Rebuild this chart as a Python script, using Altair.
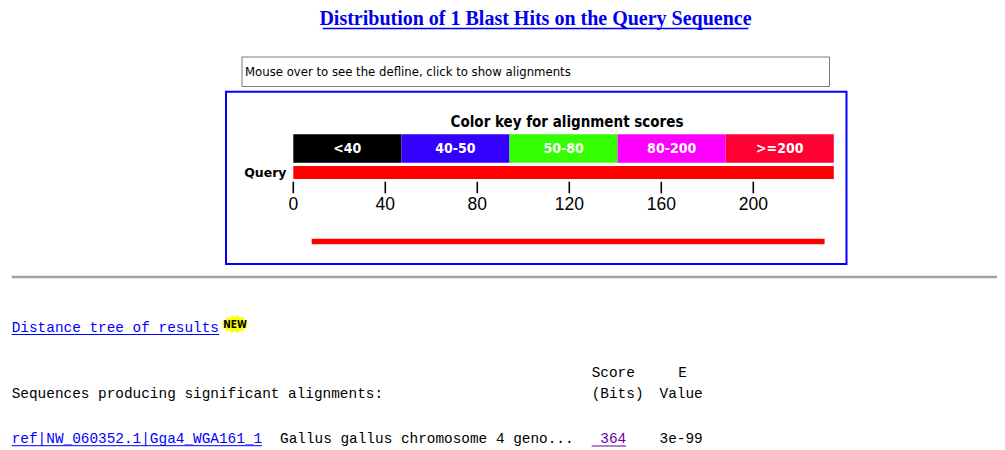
import altair as alt
import pandas as pd
import numpy as np

# ---------------- data ----------------
title_text = "Distribution of 1 Blast Hits on the Query Sequence"
hint_text = "Mouse over to see the defline, click to show alignments"
key_title = "Color key for alignment scores"
key_labels = ["<40", "40-50", "50-80", "80-200", ">=200"]
key_colors = ["#000000", "#3300ff", "#33ff00", "#ff00ff", "#ff0033"]
key_starts = [0, 47, 94, 141, 188]
key_ends = [47, 94, 141, 188, 235]
query_length = 235
tick_values = [0, 40, 80, 120, 160, 200]
hit_starts = [8]
hit_ends = [231]
hit_scores = [364]
hit_ids = ["ref|NW_060352.1|Gga4_WGA161_1"]
hit_descs = ["Gallus gallus chromosome 4 geno..."]
hit_evalues = ["3e-99"]
link_text = "Distance tree of results"
seq_header = "Sequences producing significant alignments:"

# ---------------- layout helpers ----------------
W, H = 989, 442
M = 8  # page margin
XS = alt.Scale(domain=[-285.3 / 2.3, (W - 285.3) / 2.3], nice=False, zero=False)
MONO = "Liberation Mono"
SANS = "Liberation Sans"
NARROW = "Liberation Sans Narrow, DejaVu Sans Condensed, Liberation Sans"


def one():
    return pd.DataFrame({"a": [0]})


def txt(s, x, y, **kw):
    kw.setdefault("baseline", "middle")
    return alt.Chart(pd.DataFrame({"t": [s]})).mark_text(**kw).encode(
        x=alt.value(x - M), y=alt.value(y - M), text="t:N")


def hrule(x1, x2, y, color, width):
    return alt.Chart(one()).mark_rule(color=color, strokeWidth=width).encode(
        x=alt.value(x1 - M), x2=alt.value(x2 - M), y=alt.value(y - M))


def box(x1, x2, y1, y2, **kw):
    return alt.Chart(one()).mark_rect(**kw).encode(
        x=alt.value(x1 - M), x2=alt.value(x2 - M),
        y=alt.value(y1 - M), y2=alt.value(y2 - M))


layers = []

# title
layers.append(txt(title_text, 535.5, 19, align="center", font="Liberation Serif",
                  fontWeight="bold", fontSize=20, color="#0000ee"))
layers.append(hrule(322.7, 748.3, 28.5, "#0000ee", 1.5))

# hint box
layers.append(box(242, 829.5, 57, 86.5, fill="#ffffff", stroke="#7a7a7a", strokeWidth=1))
layers.append(txt(hint_text, 245, 72, align="left", font=NARROW, fontSize=13, color="#000000"))

# blue frame
layers.append(box(226, 846.5, 91.7, 264, fill="#ffffff", fillOpacity=0,
                  stroke="#0000ff", strokeWidth=2))

# colour key
key_df = pd.DataFrame({"start": key_starts, "end": key_ends, "label": key_labels})
key_rect = alt.Chart(key_df).mark_rect().encode(
    x=alt.X("start:Q", scale=XS, axis=None), x2="end:Q",
    y=alt.value(134.3 - M), y2=alt.value(162.7 - M),
    color=alt.Color("label:N", scale=alt.Scale(domain=key_labels, range=key_colors), legend=None))
key_txt = alt.Chart(key_df).transform_calculate(mid="(datum.start + datum.end) / 2").mark_text(
    font=NARROW, fontWeight="bold", fontSize=14, color="#ffffff", baseline="middle").encode(
    x=alt.X("mid:Q", scale=XS, axis=None), y=alt.value(148.5 - M), text="label:N")
key_title_l = alt.Chart(pd.DataFrame({"t": [key_title], "c": [query_length / 2 + 1.5]})).mark_text(
    font=NARROW, fontWeight="bold", fontSize=15, color="#000000", baseline="middle").encode(
    x=alt.X("c:Q", scale=XS, axis=None), y=alt.value(121.5 - M), text="t:N")
layers += [key_rect, key_txt, key_title_l]

# query bar
q_df = pd.DataFrame({"start": [0], "end": [query_length]})
layers.append(alt.Chart(q_df).mark_rect(color="#ff0000").encode(
    x=alt.X("start:Q", scale=XS, axis=None), x2="end:Q",
    y=alt.value(166 - M), y2=alt.value(179 - M)))
layers.append(txt("Query", 286.5, 172.5, align="right", font="DejaVu Sans", fontWeight="bold",
                  fontSize=12.5, color="#000000"))

# ticks
t_df = pd.DataFrame({"pos": tick_values})
layers.append(alt.Chart(t_df).mark_rule(color="#000000", strokeWidth=1.6).encode(
    x=alt.X("pos:Q", scale=XS, axis=None), y=alt.value(181.7 - M), y2=alt.value(193.3 - M)))
layers.append(alt.Chart(t_df).mark_text(font=SANS, fontSize=17.5, color="#000000",
                                        baseline="middle").encode(
    x=alt.X("pos:Q", scale=XS, axis=None), y=alt.value(205 - M), text="pos:Q"))

# hits
h_df = pd.DataFrame({"start": hit_starts, "end": hit_ends, "score": hit_scores})
layers.append(alt.Chart(h_df).mark_rect(color="#ff0000").encode(
    x=alt.X("start:Q", scale=XS, axis=None), x2="end:Q",
    y=alt.value(238.7 - M), y2=alt.value(244.3 - M)))

# separator
layers.append(hrule(11.7, 1005, 277, "#a0a0a0", 2.5))

# distance tree link + NEW badge
layers.append(txt(link_text, 11.7, 327.5, align="left", font=MONO, fontSize=14.4, color="#0000ff"))
layers.append(hrule(11.7, 219, 334.5, "#0000ff", 1))
ang = np.linspace(0, 2 * np.pi, 29)[:-1]
rad = np.where(np.arange(len(ang)) % 2 == 0, 1.0, 0.8)
pts = [f"{r * np.cos(a):.3f},{0.64 * r * np.sin(a):.3f}" for r, a in zip(rad, ang)]
star = "M" + " L".join(pts) + " Z"
layers.append(alt.Chart(one()).mark_point(shape=star, filled=True, fill="#ffff00",
                                          opacity=1, size=780, strokeWidth=0).encode(
    x=alt.value(235 - M), y=alt.value(324.2 - M)))
layers.append(txt("NEW", 235, 324.5, align="center", font=NARROW, fontWeight="bold",
                  fontSize=10, color="#000000"))

# result table
layers.append(txt("Score", 591.7, 372.5, align="left", font=MONO, fontSize=14.4, color="#000000"))
layers.append(txt("E", 678.3, 372.5, align="left", font=MONO, fontSize=14.4, color="#000000"))
layers.append(txt(seq_header, 11.7, 394, align="left", font=MONO, fontSize=14.4, color="#000000"))
layers.append(txt("(Bits)", 591.7, 394, align="left", font=MONO, fontSize=14.4, color="#000000"))
layers.append(txt("Value", 659.5, 394, align="left", font=MONO, fontSize=14.4, color="#000000"))

layers.append(txt(hit_ids[0], 11.7, 438.5, align="left", font=MONO, fontSize=14.4, color="#0000ff"))
layers.append(hrule(11.7, 262, 445.7, "#0000ff", 1))
layers.append(txt(hit_descs[0], 280, 438.5, align="left", font=MONO, fontSize=14.4, color="#000000"))
layers.append(txt(str(hit_scores[0]), 600.3, 438.5, align="left", font=MONO, fontSize=14.4,
                  color="#660099"))
layers.append(hrule(591.7, 626, 446, "#660099", 1))
layers.append(txt(hit_evalues[0], 659.5, 438.5, align="left", font=MONO, fontSize=14.4,
                  color="#000000"))

chart = alt.layer(*layers).properties(
    width=W, height=H, padding=0, autosize=alt.AutoSizeParams(type="none"),
    background="#ffffff",
).configure_view(strokeWidth=0)

chart.save("out.html", embed_options={"renderer": "svg", "actions": False})
